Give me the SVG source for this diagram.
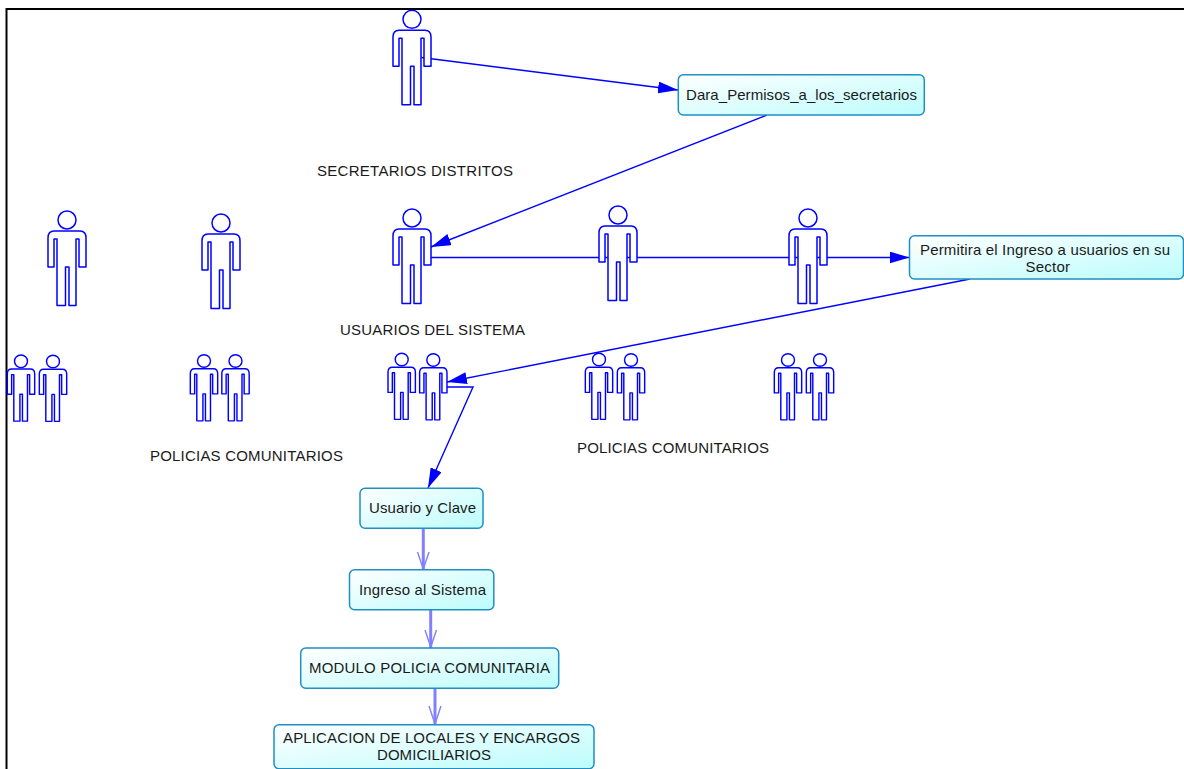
<svg xmlns="http://www.w3.org/2000/svg" width="1184" height="769" viewBox="0 0 1184 769">
<style>
.actor{fill:#fff;stroke:#0000ff;stroke-width:1.5;stroke-linejoin:round}
.small{fill:#fff;stroke:#0000ff;stroke-width:2;stroke-linejoin:round}
.box{fill:url(#g);stroke:#1f8fc4;stroke-width:1.5}
.c{fill:none;stroke:#0000ff;stroke-width:1.4}
.t{fill:none;stroke:#8080ff;stroke-width:3}
.v{fill:none;stroke:#8080ff;stroke-width:1.4}
text{font-family:"Liberation Sans",Arial,sans-serif;font-size:15px;fill:#1a1a1a;text-anchor:middle}
</style>
<defs>
<linearGradient id="g" x1="0" y1="0" x2="1" y2="1"><stop offset="0" stop-color="#ffffff"/><stop offset="1" stop-color="#bcfcfc"/></linearGradient>
<marker id="a" markerUnits="userSpaceOnUse" markerWidth="20" markerHeight="12" refX="20" refY="6" orient="auto"><path d="M0,0L20,6L0,12Z" fill="#0000ff"/></marker>
<g id="man"><circle cx="0" cy="0" r="9"/><path d="M-19,18Q-19,11 -13,11L13,11Q19,11 19,18L19,47L12,47L12,19L9,19L9,85.5L2,85.5L2,47L-1.5,47L-1.5,85.5L-10,85.5L-10,19L-13,19L-13,47L-19,47Z"/></g>
</defs>
<g id="frame"><path d="M1184,9H6.5V769" fill="none" stroke="#000" stroke-width="2"/></g>
<g id="connectors">
<path class="c" d="M421.5,57.5L678,90" marker-end="url(#a)"/>
<path class="c" d="M767,115L431,247" marker-end="url(#a)"/>
<path class="c" d="M425,257.5H909.5" marker-end="url(#a)"/>
<path class="c" d="M970,279L447,382" marker-end="url(#a)"/>
<path class="c" d="M447,387H473L428,488" marker-end="url(#a)"/>
<path class="t" d="M423.3,528V570"/><path class="v" d="M417.5,552L423.3,569L429,552"/>
<path class="t" d="M430.7,610V648"/><path class="v" d="M425,630L430.7,647L436.5,630"/>
<path class="t" d="M435,688.5V724"/><path class="v" d="M429,706L435,724L441,706"/>
</g>
<g id="actor-secretarios" class="actor"><use href="#man" x="412" y="19.3"/></g>
<g id="actor-a" class="actor"><use href="#man" x="67" y="220"/></g>
<g id="actor-b" class="actor"><use href="#man" x="221" y="223"/></g>
<g id="actor-usuarios" class="actor"><use href="#man" x="412" y="218"/></g>
<g id="actor-c" class="actor"><use href="#man" x="618" y="215"/></g>
<g id="actor-d" class="actor"><use href="#man" x="808" y="218"/></g>
<g id="policias-1" class="small"><use href="#man" transform="translate(21,361.3) scale(.72,.7)"/><use href="#man" transform="translate(53,361.5) scale(.72,.7)"/></g>
<g id="policias-2" class="small"><use href="#man" transform="translate(204,361) scale(.72,.7)"/><use href="#man" transform="translate(235.5,361) scale(.72,.7)"/></g>
<g id="policias-3" class="small"><use href="#man" transform="translate(401.7,359.5) scale(.72,.7)"/><use href="#man" transform="translate(433.3,360) scale(.72,.7)"/></g>
<g id="policias-4" class="small"><use href="#man" transform="translate(599,359.5) scale(.72,.7)"/><use href="#man" transform="translate(631,360) scale(.72,.7)"/></g>
<g id="policias-5" class="small"><use href="#man" transform="translate(788,360) scale(.72,.7)"/><use href="#man" transform="translate(820,360) scale(.72,.7)"/></g>
<g id="n-dara"><rect class="box" x="678.3" y="74.7" width="246" height="40.3" rx="5"/><text x="801.5" y="100" textLength="231">Dara_Permisos_a_los_secretarios</text></g>
<g id="n-permitira"><rect class="box" x="909.5" y="235.7" width="274" height="43.3" rx="5"/><text x="1045" y="255" textLength="250">Permitira el Ingreso a usuarios en su</text><text x="1047.8" y="272" textLength="44.5">Sector</text></g>
<g id="n-usuario"><rect class="box" x="360" y="488.3" width="123" height="40" rx="5"/><text x="422.5" y="513" textLength="107">Usuario y Clave</text></g>
<g id="n-ingreso"><rect class="box" x="349.5" y="569.7" width="144.3" height="40" rx="5"/><text x="422.5" y="595" textLength="127">Ingreso al Sistema</text></g>
<g id="n-modulo"><rect class="box" x="300.7" y="648" width="258" height="40.3" rx="5"/><text x="429.5" y="673" textLength="241">MODULO POLICIA COMUNITARIA</text></g>
<g id="n-aplicacion"><rect class="box" x="274" y="724.7" width="320" height="44" rx="5"/><text x="431.5" y="743" textLength="297">APLICACION DE LOCALES Y ENCARGOS</text><text x="434" y="760" textLength="114">DOMICILIARIOS</text></g>
<g id="labels">
<text x="415" y="176" textLength="196">SECRETARIOS DISTRITOS</text>
<text x="432.5" y="335" textLength="185">USUARIOS DEL SISTEMA</text>
<text x="246.5" y="461" textLength="193">POLICIAS COMUNITARIOS</text>
<text x="673" y="453" textLength="192">POLICIAS COMUNITARIOS</text>
</g>
</svg>
